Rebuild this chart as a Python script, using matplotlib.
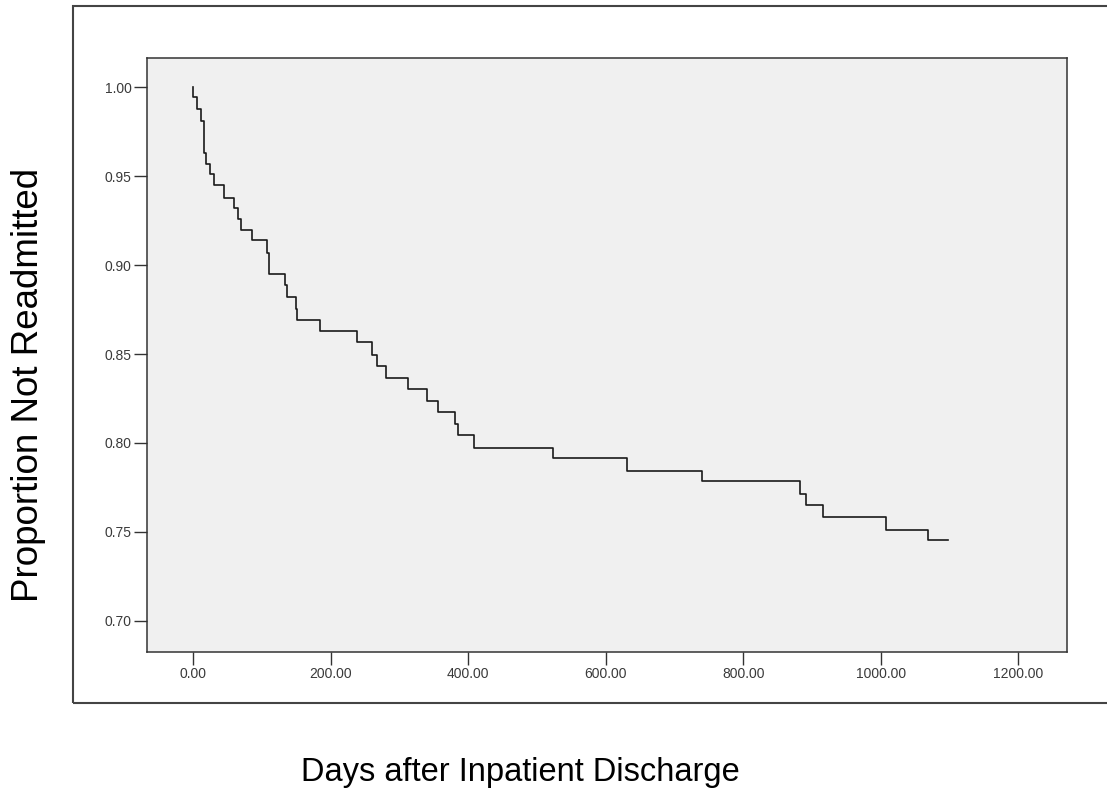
import matplotlib.pyplot as plt
from matplotlib.patches import Rectangle

plt.rcParams['font.family'] = ['Liberation Sans', 'DejaVu Sans']

# Kaplan-Meier estimate: day of each drop and the proportion after it
drop_days = [0, 5, 11, 16, 19, 24, 31, 45, 60, 65, 70, 86, 107, 111, 133, 137,
             149, 151, 185, 239, 260, 267, 280, 312, 340, 356, 381, 386, 408,
             524, 631, 740, 882, 892, 916, 1007, 1069]
surv_after = [0.9944, 0.988, 0.981, 0.963, 0.957, 0.951, 0.945, 0.938, 0.932,
              0.926, 0.920, 0.914, 0.907, 0.895, 0.8886, 0.882, 0.8755, 0.869,
              0.8627, 0.8566, 0.8497, 0.8435, 0.8365, 0.8303, 0.8237, 0.8174,
              0.8106, 0.8045, 0.7973, 0.7914, 0.7843, 0.7784, 0.7715, 0.765,
              0.7582, 0.7512, 0.7456]
last_day = 1098

x_ticks = [0, 200, 400, 600, 800, 1000, 1200]
y_ticks = [0.70, 0.75, 0.80, 0.85, 0.90, 0.95, 1.00]

days = [0] + drop_days + [last_day]
surv = [1.0] + surv_after + [surv_after[-1]]

fig = plt.figure(figsize=(11.07, 8.07), dpi=100)

# outer frame
fig.patches.append(Rectangle((0.066, 0.129), 0.94, 0.863, transform=fig.transFigure,
                             fill=False, edgecolor='#444444', linewidth=1.5))

ax = fig.add_axes([0.1328, 0.1921, 0.8311, 0.7361])
ax.set_facecolor('#f0f0f0')
ax.step(days, surv, where='post', color='#1a1a1a', linewidth=1.2)

ax.set_xlim(-67, 1271)
ax.set_ylim(0.6825, 1.0165)
ax.set_xticks(x_ticks)
ax.set_xticklabels(['%.2f' % t for t in x_ticks])
ax.set_yticks(y_ticks)
ax.set_yticklabels(['%.2f' % t for t in y_ticks])
ax.tick_params(length=9.5, width=1.0, labelsize=10, pad=1.5, colors='#333333',
               labelcolor='#3a3a3a')
for s in ax.spines.values():
    s.set_color('#333333')
    s.set_linewidth(1.1)

fig.text(0.026, 1 - 385 / 807, 'Proportion Not Readmitted', rotation=90,
         ha='center', va='center', fontsize=26.5)
fig.text(520 / 1107, 1 - 772 / 807, 'Days after Inpatient Discharge',
         ha='center', va='center', fontsize=23.5)

fig.savefig('out.png', dpi=100)
